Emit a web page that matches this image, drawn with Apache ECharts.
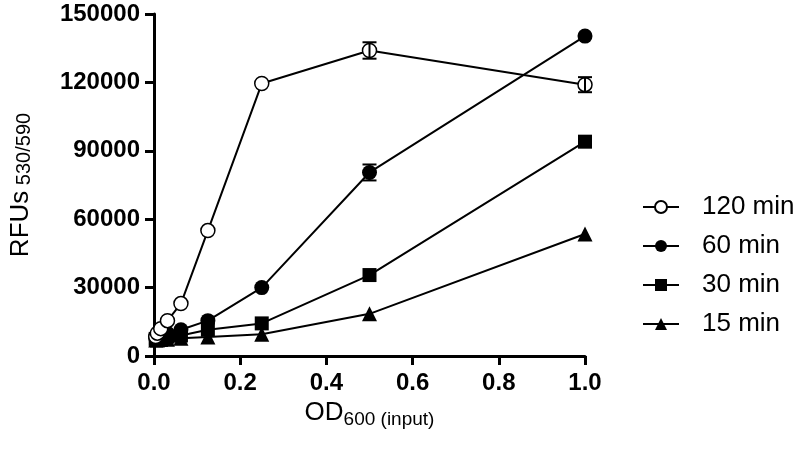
<!DOCTYPE html>
<html><head><meta charset="utf-8">
<script src="https://cdn.jsdelivr.net/npm/echarts@6/dist/echarts.min.js"></script>
<style>html,body{margin:0;padding:0;background:#fff}#c{width:796px;height:456px}</style>
</head><body><div id="c"></div>
<script>
const odValues = [0.00390625, 0.0078125, 0.015625, 0.03125, 0.0625, 0.125, 0.25, 0.5, 1.0];
const seriesNames = ['120 min', '60 min', '30 min', '15 min'];
const rfu120 = [8500, 10000, 12000, 15500, 23000, 55000, 119500, 134000, 119000];
const rfu60  = [8000, 8500, 9000, 10000, 11500, 15500, 30000, 80500, 140300];
const rfu30  = [7500, 7800, 8000, 8500, 9000, 11500, 14300, 35500, 94000];
const rfu15  = [7000, 7000, 7200, 7400, 7800, 8300, 9500, 18500, 53500];
const err120 = [0, 0, 0, 0, 0, 0, 0, 3600, 3300];
const err60  = [0, 0, 0, 0, 0, 0, 0, 3500, 0];
const err30  = [0, 0, 0, 0, 0, 0, 0, 0, 0];
const err15  = [0, 0, 0, 0, 0, 0, 0, 0, 0];
const xTicks = [0, 0.2, 0.4, 0.6, 0.8, 1.0];
const yTicks = [0, 30000, 60000, 90000, 120000, 150000];

const FONT = '"Liberation Sans", Arial, Helvetica, sans-serif';
const symbols = ['circle', 'circle', 'rect', 'triangle'];
const fills = ['#ffffff', '#000000', '#000000', '#000000'];
const sizes = [14, 15, 14, 15];
const allVals = [rfu120, rfu60, rfu30, rfu15];
const allErr = [err120, err60, err30, err15];

const chart = echarts.init(document.getElementById('c'), null, {renderer: 'canvas'});
const series = [];
seriesNames.forEach((name, i) => {
  series.push({
    name: name,
    type: 'line',
    data: odValues.map((x, j) => [x, allVals[i][j]]),
    symbol: symbols[i],
    symbolSize: sizes[i],
    showAllSymbol: true,
    lineStyle: {color: '#000', width: 2},
    itemStyle: {color: fills[i], borderColor: '#000', borderWidth: i === 0 ? 1.5 : 0},
    emphasis: {disabled: true},
    z: 10 - i,
    animation: false
  });
});
// error bars
const errData = [];
allVals.forEach((vals, i) => {
  vals.forEach((v, j) => {
    if (allErr[i][j] > 0) errData.push([odValues[j], v - allErr[i][j], v + allErr[i][j]]);
  });
});
series.push({
  type: 'custom',
  name: 'err',
  data: errData,
  z: 20,
  animation: false,
  renderItem: function (params, api) {
    const x = api.value(0);
    const lo = api.coord([x, api.value(1)]);
    const hi = api.coord([x, api.value(2)]);
    const w = 7;
    const st = {stroke: '#000', lineWidth: 2};
    return {type: 'group', children: [
      {type: 'line', shape: {x1: lo[0], y1: lo[1], x2: hi[0], y2: hi[1]}, style: st},
      {type: 'line', shape: {x1: lo[0] - w, y1: lo[1], x2: lo[0] + w, y2: lo[1]}, style: st},
      {type: 'line', shape: {x1: hi[0] - w, y1: hi[1], x2: hi[0] + w, y2: hi[1]}, style: st}
    ]};
  }
});

chart.setOption({
  backgroundColor: '#fff',
  animation: false,
  grid: {left: 152, right: 211, top: 14, bottom: 100, containLabel: false},
  legend: {
    data: seriesNames,
    orient: 'vertical',
    left: 637,
    top: 189,
    itemWidth: 36,
    itemHeight: 15,
    itemGap: 13,
    textStyle: {fontFamily: FONT, fontSize: 26, color: '#000', padding: [0, 0, 0, 18]},
    selectedMode: false
  },
  xAxis: {
    type: 'value',
    min: xTicks[0], max: xTicks[xTicks.length - 1], interval: 0.2,
    axisLine: {show: true, lineStyle: {color: '#000', width: 3}},
    axisTick: {show: true, length: 9, lineStyle: {color: '#000', width: 3}},
    splitLine: {show: false},
    axisLabel: {fontFamily: FONT, fontSize: 24, fontWeight: 'bold', color: '#000', margin: 15,
      formatter: v => v.toFixed(1)},
    name: 'OD{sub|600 (input)}',
    nameLocation: 'middle',
    nameGap: 38,
    nameTextStyle: {fontFamily: FONT, fontSize: 26, color: '#000',
      rich: {sub: {fontFamily: FONT, fontSize: 19, color: '#000', padding: [14, 0, 0, 0]}}}
  },
  yAxis: {
    type: 'value',
    min: yTicks[0], max: yTicks[yTicks.length - 1], interval: 30000,
    axisLine: {show: true, lineStyle: {color: '#000', width: 3}},
    axisTick: {show: true, length: 9, lineStyle: {color: '#000', width: 3}},
    splitLine: {show: false},
    axisLabel: {fontFamily: FONT, fontSize: 24, fontWeight: 'bold', color: '#000', margin: 14,
      formatter: v => String(v)},
    name: 'RFUs{sub| 530/590}',
    nameLocation: 'middle',
    nameRotate: 90,
    nameGap: 120,
    nameTextStyle: {fontFamily: FONT, fontSize: 26, color: '#000', verticalAlign: 'bottom',
      rich: {sub: {fontFamily: FONT, fontSize: 20, color: '#000', padding: [6, 0, 0, 0]}}}
  },
  series: series
});
</script></body></html>
